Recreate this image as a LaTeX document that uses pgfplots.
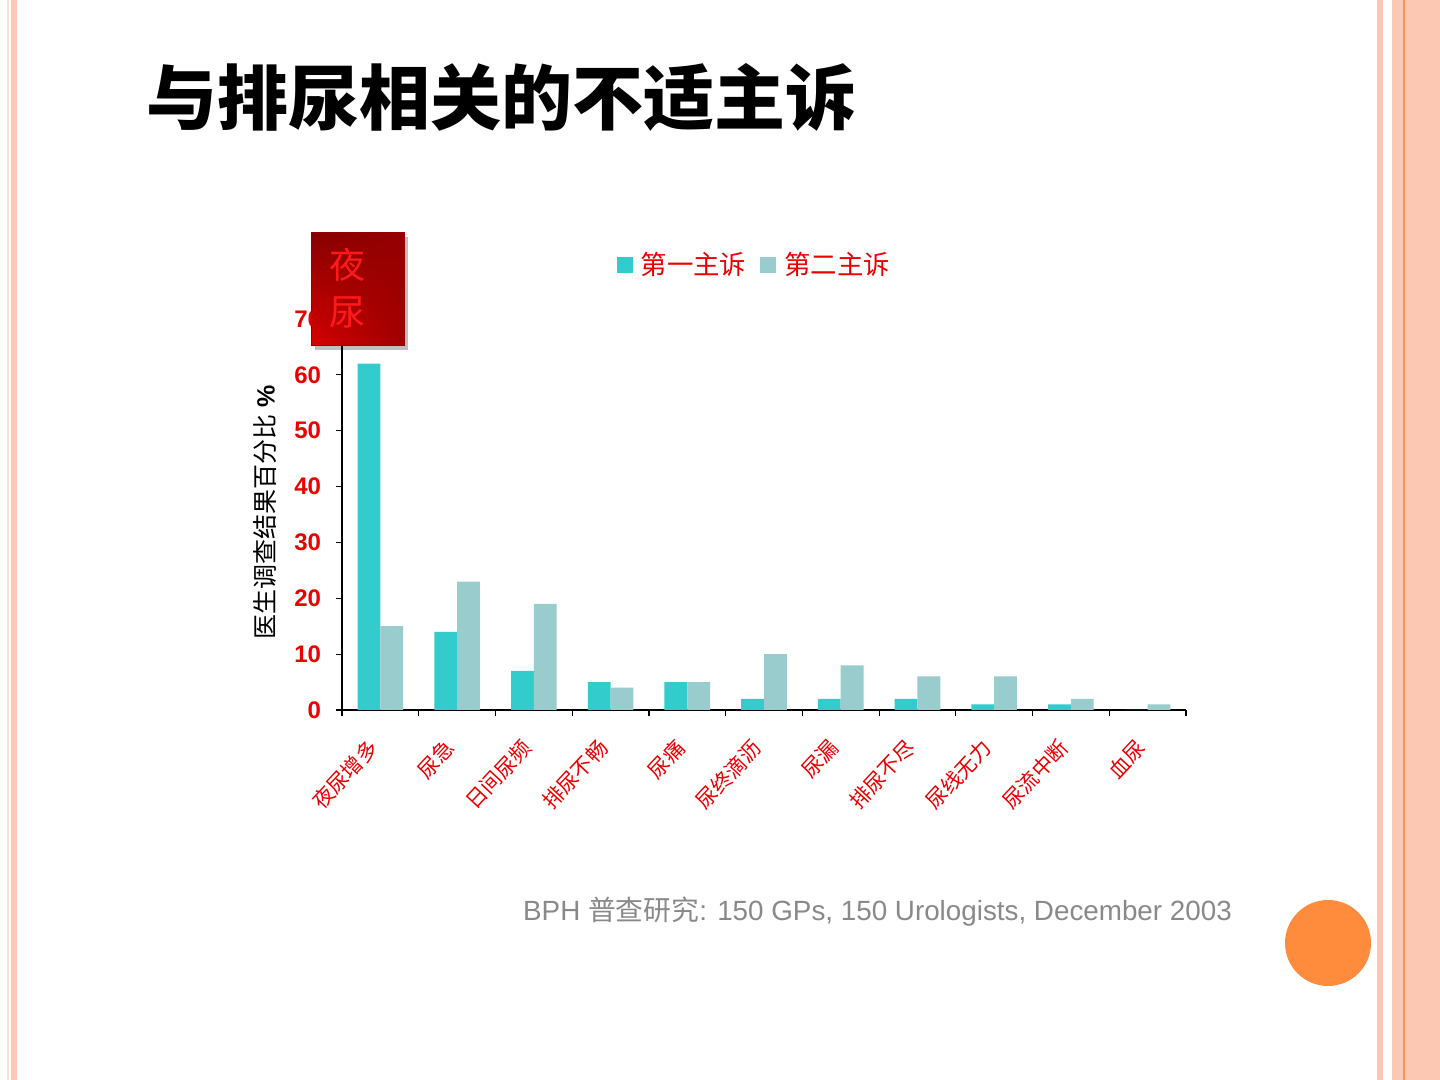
\documentclass[border=0pt]{standalone}
\usepackage{pgfplots}
\pgfplotsset{compat=1.18}
\usepackage{fontspec}
\setmainfont{Liberation Sans}
\newfontfamily\cjk{Noto Sans CJK SC}
\usetikzlibrary{shadows,shadings}
\definecolor{c1}{RGB}{51,204,204}
\definecolor{c2}{RGB}{153,204,204}
\definecolor{salmon}{RGB}{252,200,180}
\definecolor{salmonl}{RGB}{253,225,212}
\definecolor{orng}{RGB}{255,140,60}
\definecolor{oline}{RGB}{245,150,90}
\definecolor{lred}{RGB}{235,0,0}
\definecolor{srcgray}{RGB}{137,137,137}
\definecolor{rbUL}{RGB}{135,0,0}
\definecolor{rbUR}{RGB}{150,0,0}
\definecolor{rbLL}{RGB}{215,0,0}
\definecolor{rbLR}{RGB}{160,0,0}
\definecolor{rtext}{RGB}{255,25,25}
\begin{document}
\begin{tikzpicture}
\useasboundingbox (0,0) rectangle (720bp,540bp);
\fill[white] (0,0) rectangle (720bp,540bp);
% slide borders
\fill[salmonl] (3.5bp,0) rectangle (4.5bp,540bp);
\fill[salmon] (5.5bp,0) rectangle (8.5bp,540bp);
\fill[salmon] (688.5bp,0) rectangle (691.5bp,540bp);
\fill[salmon] (696bp,0) rectangle (720bp,540bp);
\fill[oline] (701.5bp,0) rectangle (702.5bp,540bp);
% title
\node[font=\cjk\bfseries\fontsize{35.5bp}{40bp}\selectfont] at (250.75bp,491.5bp) {与排尿相关的不适主诉};
\begin{axis}[
  at={(171bp,185bp)}, anchor=south west,
  scale only axis, width=422bp, height=195.5bp,
  axis lines=left, axis line style={-, black, line width=0.6bp},
  xmin=-0.5, xmax=10.5, ymin=0, ymax=70,
  ybar=0pt, bar width=11.4bp,
  xtick={-0.5,0.5,...,10.5},
  x tick label as interval,
  xticklabels={夜尿增多,尿急,日间尿频,排尿不畅,尿痛,尿终滴沥,尿漏,排尿不尽,尿线无力,尿流中断,血尿},
  ytick={0,10,...,70},
  tick align=outside, major tick length=3bp,
  tick style={black, line width=0.6bp},
  /pgf/number format/assume math mode=true,
  yticklabel style={font=\bfseries\fontsize{12bp}{14bp}\selectfont, text=lred, xshift=-4bp},
  xticklabel style={font=\cjk\fontsize{10.5bp}{12bp}\selectfont, text=lred, rotate=47, anchor=east, xshift=-9bp, yshift=-7bp},
  ylabel={{\cjk 医生调查结果百分比} \textbf{\%}},
  ylabel style={at={(axis description cs:-0.091,0.506)}, anchor=center, font=\fontsize{12.5bp}{14bp}\selectfont},
  legend style={at={(axis description cs:0.492,1.138)}, anchor=center, draw=none, fill=none,
    font=\cjk\fontsize{13.2bp}{15bp}\selectfont, text=lred, legend columns=2,
    /tikz/every even column/.append style={column sep=3bp},
    nodes={inner xsep=4bp}},
  legend image code/.code={\draw[#1,draw=none] (0bp,-4bp) rectangle (8bp,4bp);},
]
\addplot[fill=c1, draw=none] coordinates {(0,62) (1,14) (2,7) (3,5) (4,5) (5,2) (6,2) (7,2) (8,1) (9,1) (10,0)};
\addplot[fill=c2, draw=none] coordinates {(0,15) (1,23) (2,19) (3,4) (4,5) (5,10) (6,8) (7,6) (8,6) (9,2) (10,1)};
\legend{第一主诉,第二主诉}
\end{axis}
% red callout box
\fill[black, opacity=0.25] (157.5bp,365bp) rectangle (204bp,421.5bp);
\shade[upper left=rbUL, upper right=rbUR, lower left=rbLL, lower right=rbLR] (155.5bp,367bp) rectangle (202bp,423.5bp);
\draw[rbUR, line width=0.5bp] (155.5bp,367bp) rectangle (202bp,423.5bp);
\node[text=rtext, font=\cjk\fontsize{18bp}{20bp}\selectfont] at (173.5bp,407.5bp) {夜};
\node[text=rtext, font=\cjk\fontsize{18bp}{20bp}\selectfont] at (173.5bp,384bp) {尿};
% source
\node[text=srcgray, font=\fontsize{13.9bp}{16bp}\selectfont] at (438.75bp,84bp) {BPH {\cjk 普查研究}: 150 GPs, 150 Urologists, December 2003};
% orange circle
\fill[orng] (664bp,68.5bp) circle (21.5bp);
\end{tikzpicture}
\end{document}
